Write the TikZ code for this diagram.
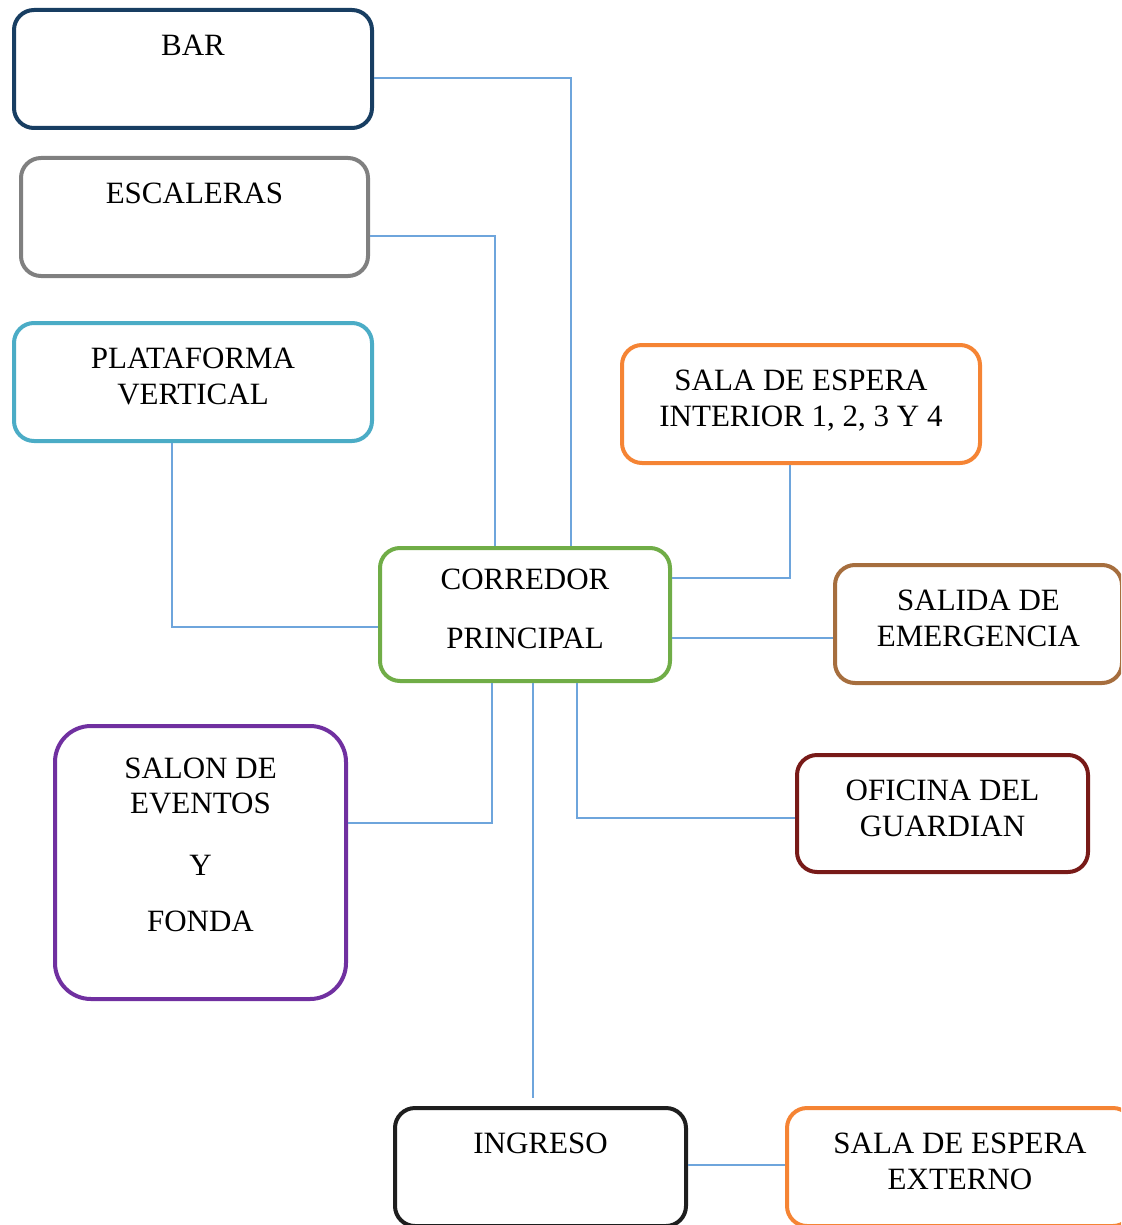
\documentclass[tikz,border=0pt]{standalone}
\usepackage{fontspec}
\setmainfont{Liberation Serif}
\usetikzlibrary{calc,positioning}
\definecolor{rmNavy}{RGB}{24,62,98}
\definecolor{rmGray}{RGB}{128,128,128}
\definecolor{rmCyan}{RGB}{75,172,198}
\definecolor{rmOrange}{RGB}{245,132,52}
\definecolor{rmGreen}{RGB}{112,173,71}
\definecolor{rmBrown}{RGB}{166,110,62}
\definecolor{rmPurple}{RGB}{112,48,160}
\definecolor{rmWine}{RGB}{120,26,24}
\definecolor{rmInk}{RGB}{30,30,30}
\definecolor{lnBlue}{RGB}{110,165,220}
\tikzset{
  room/.style={draw,rounded corners=10pt,line width=2pt,fill=white,align=center,
    inner sep=0pt,text=black,text depth=5.5pt,font=\fontsize{15.5}{17.8}\selectfont},
  link/.style={draw=lnBlue,line width=1pt},
}

\begin{document}
\begin{tikzpicture}[x=0.5pt,y=-0.5pt]
  \useasboundingbox (0,0) rectangle (1121,1225);
  \clip (0,0) rectangle (1121,1225);
  \node[room,draw=rmNavy,minimum width=179pt,minimum height=59pt] (bar) at (193,69) {BAR\\[0.5pt]~};
  \node[room,draw=rmGray,minimum width=173.5pt,minimum height=59pt] (esc) at (194.5,217) {ESCALERAS\\[0.5pt]~};
  \node[room,draw=rmCyan,minimum width=179pt,minimum height=59pt] (plat) at (193,382) {PLATAFORMA\\VERTICAL};
  \node[room,draw=rmOrange,minimum width=179pt,minimum height=59pt] (salaint) at (801,404) {SALA DE ESPERA\\INTERIOR 1, 2, 3 Y 4};
  \node[room,draw=rmGreen,minimum width=145pt,minimum height=66.5pt] (corr) at (525,614.5) {CORREDOR\\[11.5pt]PRINCIPAL};
  \node[room,draw=rmBrown,minimum width=143.5pt,minimum height=59pt] (salida) at (978.5,624) {SALIDA DE\\EMERGENCIA};
  \node[room,draw=rmPurple,rounded corners=18pt,text depth=0pt,minimum width=145.5pt,minimum height=136.5pt] (salon) at (200.5,862.5)
    {SALON DE\\EVENTOS\\[13pt]Y\\[10.5pt]FONDA\\~};
  \node[room,draw=rmWine,minimum width=145.5pt,minimum height=58.5pt] (ofi) at (942.5,813.5) {OFICINA DEL\\GUARDIAN};
  \node[room,draw=rmInk,minimum width=145.5pt,minimum height=59pt] (ingreso) at (540.5,1167) {INGRESO\\[0.5pt]~};
  \node[room,draw=rmOrange,minimum width=173pt,minimum height=59pt] (externo) at (960,1167) {SALA DE ESPERA\\EXTERNO};
  \coordinate (toSalida) at ($(corr.east)+(0,23.5)$);
  \coordinate (toIngreso) at ($(corr.south)+(8,0)$);
  \coordinate (toExterno) at ($(ingreso.east)+(0,-2)$);
  \draw[link] ($(bar.east)+(0,9)$) -| ($(corr.north)+(46,0)$);
  \draw[link] ($(esc.east)+(0,19)$) -| ($(corr.north)+(-30,0)$);
  \draw[link] ($(plat.south)+(-21,0)$) |- ($(corr.west)+(0,12.5)$);
  \draw[link] ($(salaint.south)+(-11,0)$) |- ($(corr.east)+(0,-36.5)$);
  \draw[link] (toSalida) -- (toSalida -| salida.west);
  \draw[link] ($(salon.east)+(0,-39.5)$) -| ($(corr.south)+(-33,0)$);
  \draw[link] ($(ofi.west)+(0,4.5)$) -| ($(corr.south)+(52,0)$);
  \draw[link,shorten >=4pt] (toIngreso) -- (toIngreso |- ingreso.north);
  \draw[link] (toExterno) -- (toExterno -| externo.west);
\end{tikzpicture}
\end{document}
